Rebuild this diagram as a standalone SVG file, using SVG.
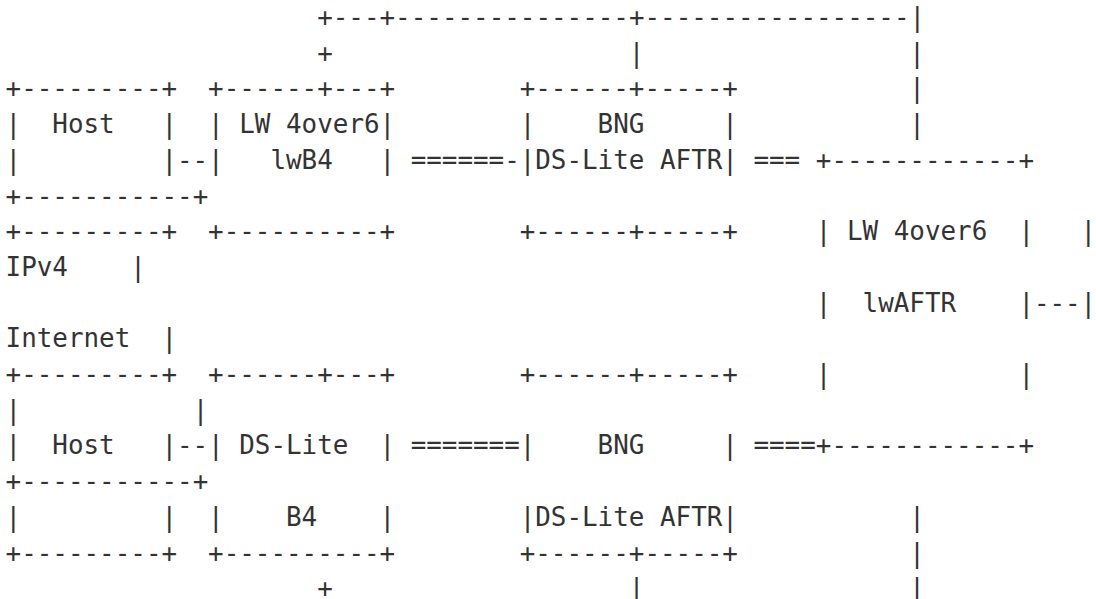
<svg xmlns="http://www.w3.org/2000/svg" width="1096" height="599" viewBox="0 0 1096 599" xml:space="preserve">
<style>
text{font-family:"DejaVu Sans Mono","Liberation Mono",monospace;font-size:25.9px;fill:#333;white-space:pre}
</style>
<rect width="1096" height="599" fill="#fff"/>
<g id="connectors">
<text x="317.2" y="26">+---+---------------+-----------------|</text>
<text x="317.2" y="61.7">+</text>
<text x="628.8" y="61.7">|</text>
<text x="909.2" y="61.7">|</text>
<text x="909.2" y="97.4">|</text>
<text x="909.2" y="133.1">|</text>
<text x="177.0" y="168.8">--</text>
<text x="410.7" y="168.8">======-</text>
<text x="753.4" y="168.8">===</text>
<text x="1033.9" y="311.6">---</text>
<text x="177.0" y="454.4">--</text>
<text x="410.7" y="454.4">=======</text>
<text x="753.4" y="454.4">====</text>
<text x="909.2" y="525.8">|</text>
<text x="909.2" y="561.5">|</text>
<text x="317.2" y="597.2">+</text>
<text x="628.8" y="597.2">|</text>
<text x="909.2" y="597.2">|</text>
</g>
<g id="host1">
<text x="5.6" y="97.4">+---------+</text>
<text x="5.6" y="133.1">|  Host   |</text>
<text x="5.6" y="168.8">|         |</text>
<text x="5.6" y="240.2">+---------+</text>
</g>
<g id="lwb4">
<text x="208.1" y="97.4">+------+---+</text>
<text x="208.1" y="133.1">| LW 4over6|</text>
<text x="208.1" y="168.8">|   lwB4   |</text>
<text x="208.1" y="240.2">+----------+</text>
</g>
<g id="bng1">
<text x="519.7" y="97.4">+------+-----+</text>
<text x="519.7" y="133.1">|    BNG     |</text>
<text x="519.7" y="168.8">|DS-Lite AFTR|</text>
<text x="519.7" y="240.2">+------+-----+</text>
</g>
<g id="lwaftr">
<text x="815.8" y="168.8">+------------+</text>
<text x="815.8" y="240.2">| LW 4over6  |</text>
<text x="815.8" y="311.6">|  lwAFTR    |</text>
<text x="815.8" y="383.0">|            |</text>
<text x="815.8" y="454.4">+------------+</text>
</g>
<g id="internet">
<text x="5.6" y="204.5">+-----------+</text>
<text x="1080.6" y="240.2">|</text>
<text x="5.6" y="275.9">IPv4    |</text>
<text x="1080.6" y="311.6">|</text>
<text x="5.6" y="347.3">Internet  |</text>
<text x="5.6" y="418.7">|           |</text>
<text x="5.6" y="490.1">+-----------+</text>
</g>
<g id="host2">
<text x="5.6" y="383.0">+---------+</text>
<text x="5.6" y="454.4">|  Host   |</text>
<text x="5.6" y="525.8">|         |</text>
<text x="5.6" y="561.5">+---------+</text>
</g>
<g id="dslite-b4">
<text x="208.1" y="383.0">+------+---+</text>
<text x="208.1" y="454.4">| DS-Lite  |</text>
<text x="208.1" y="525.8">|    B4    |</text>
<text x="208.1" y="561.5">+----------+</text>
</g>
<g id="bng2">
<text x="519.7" y="383.0">+------+-----+</text>
<text x="519.7" y="454.4">|    BNG     |</text>
<text x="519.7" y="525.8">|DS-Lite AFTR|</text>
<text x="519.7" y="561.5">+------+-----+</text>
</g>
</svg>
